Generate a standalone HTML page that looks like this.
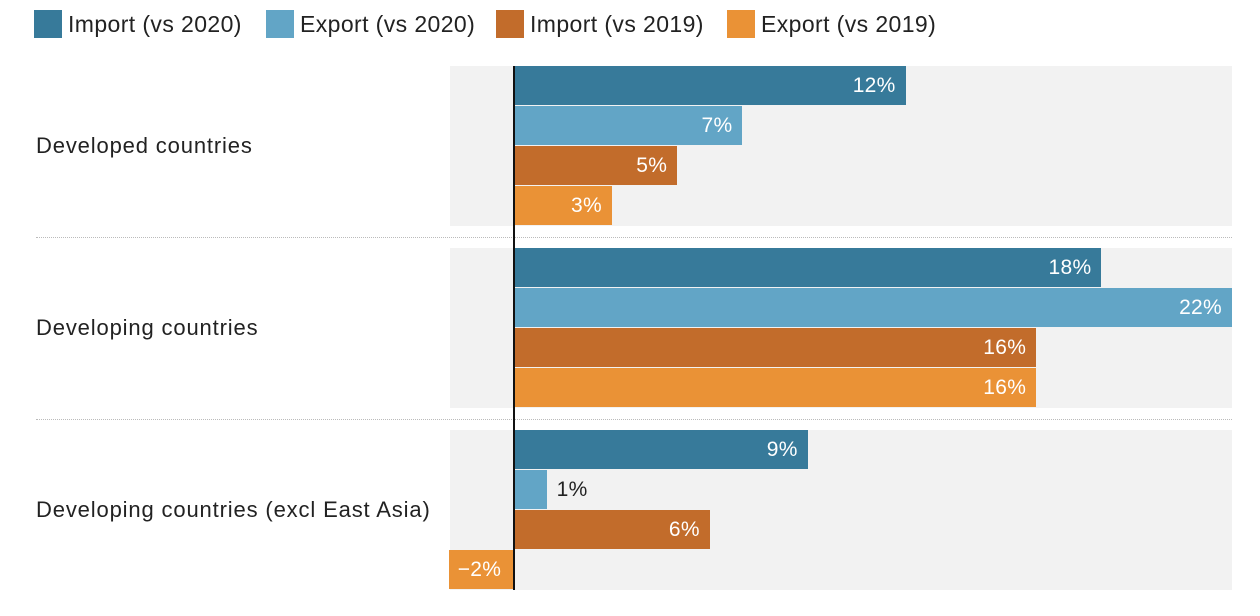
<!DOCTYPE html>
<html><head><meta charset="utf-8"><style>
body{margin:0;background:#fff;font-family:"Liberation Sans",sans-serif;}
#c{position:relative;width:1260px;height:616px;overflow:hidden}
.leg{position:absolute;top:10px;display:flex;align-items:center;font-size:23px;letter-spacing:0.4px;color:#222}
.leg span{display:inline-block;width:28px;height:28px;margin-right:6px}
.cat{position:absolute;left:36px;font-size:22px;letter-spacing:0.85px;color:#222}
.panel{position:absolute;left:450px;width:782px;height:160px;background:#f2f2f2}
.sep{position:absolute;left:36px;width:1196px;border-top:1px dotted #bbb}
.bar{position:absolute;height:39px}
.val{position:absolute;font-size:21px;letter-spacing:0.3px;line-height:39px;height:39px}
</style></head><body>
<div id="c">
<div class="leg" style="left:34px"><span style="background:#377a9a"></span>Import (vs 2020)</div>
<div class="leg" style="left:266px"><span style="background:#62a5c6"></span>Export (vs 2020)</div>
<div class="leg" style="left:496px"><span style="background:#c26c2b"></span>Import (vs 2019)</div>
<div class="leg" style="left:727px"><span style="background:#ea9236"></span>Export (vs 2019)</div>
</div>
<script>
const categories=["Developed countries","Developing countries","Developing countries (excl East Asia)"];
const importVs2020=[12,18,9];
const exportVs2020=[7,22,1];
const importVs2019=[5,16,6];
const exportVs2019=[3,16,-2];
const c=document.getElementById('c');
const zeroX=514, pxPer=(1232-514)/22;
const x=v=>zeroX+v*pxPer;
const series=[importVs2020,exportVs2020,importVs2019,exportVs2019];
const colors=["#377a9a","#62a5c6","#c26c2b","#ea9236"];
const names=["import-2020","export-2020","import-2019","export-2019"];
categories.forEach((cat,i)=>{
  const top=66+i*182;
  const p=document.createElement('div');p.className='panel';p.style.top=top+'px';
  
  
  c.appendChild(p);
  if(i>0){const s=document.createElement('div');s.className='sep';s.style.top=(top-11)+'px';
  
  
  c.appendChild(s);}
  const l=document.createElement('div');l.className='cat';l.textContent=cat;l.style.top=(top+67)+'px';
  
  
  c.appendChild(l);
  series.forEach((arr,j)=>{
    const v=arr[i];const y=top+j*40;
    const b=document.createElement('div');b.className='bar';
    const x0=Math.min(x(0),x(v)),x1=Math.max(x(0),x(v));
    b.style.left=x0+'px';b.style.width=(x1-x0)+'px';b.style.top=y+'px';b.style.background=colors[j];
    
    
    c.appendChild(b);
    const t=document.createElement('div');t.className='val';t.style.top=y+'px';
    t.textContent=v<0?'\u2212'+Math.abs(v)+'%':v+'%';
    const w=x1-x0;
    if(w>=50){
      t.style.color='#fff';
      if(v>=0){t.style.right=(1260-x1+10)+'px';}else{t.style.left=(x0+9)+'px';}
    }else{t.style.color='#222';t.style.left=(x1+10)+'px';}
    
    
    c.appendChild(t);
  });
});
const z=document.createElement('div');
z.style.cssText='position:absolute;left:513px;top:66px;width:2px;height:524px;background:#111';


c.appendChild(z);
</script>
</body></html>
